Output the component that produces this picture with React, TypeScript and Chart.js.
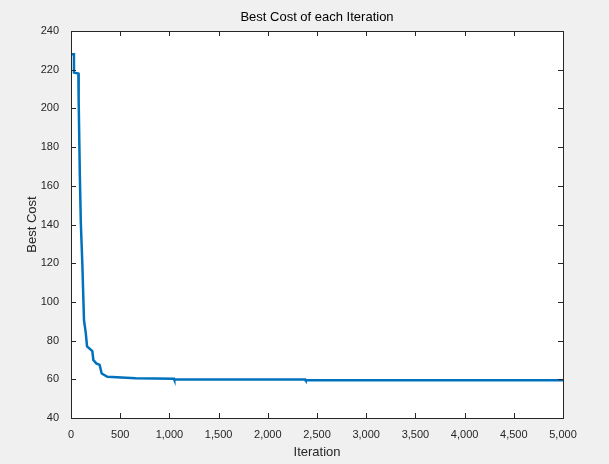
import React, { useEffect, useRef } from "react";
import { Chart, registerables } from "chart.js";
Chart.register(...registerables);

const iterations = [1, 13, 30, 30, 75, 78, 90, 100, 115, 132, 150, 163, 217, 227, 257, 291, 312, 370, 657, 1047, 1050, 2380, 2385, 5000];
const bestCost = [228, 228, 228, 218.5, 218, 204, 165, 140.6, 120, 90.6, 84, 77, 74.6, 70, 68.2, 67.4, 63, 61.3, 60.5, 60.3, 59.9, 59.9, 59.5, 59.5];
const xTicksStep = 500;
const yTicksStep = 20;

const FONT = "'Liberation Sans', Arial, sans-serif";

export default function App() {
  const ref = useRef<HTMLCanvasElement>(null);
  useEffect(() => {
    document.body.style.margin = "0";
    document.body.style.background = "#F0F0F0";
    const frame = {
      id: "frame",
      afterDraw(c: any) {
        const { ctx, chartArea: a, scales } = c;
        ctx.save();
        ctx.strokeStyle = "#262626";
        ctx.lineWidth = 1;
        ctx.strokeRect(a.left + 0.5, a.top + 0.5, a.right - a.left, a.bottom - a.top);
        ctx.beginPath();
        scales.x.ticks.forEach((t: any) => {
          const px = Math.round(scales.x.getPixelForValue(t.value)) + 0.5;
          ctx.moveTo(px, a.bottom); ctx.lineTo(px, a.bottom - 5);
          ctx.moveTo(px, a.top); ctx.lineTo(px, a.top + 5);
        });
        scales.y.ticks.forEach((t: any) => {
          const py = Math.round(scales.y.getPixelForValue(t.value)) + 0.5;
          ctx.moveTo(a.left, py); ctx.lineTo(a.left + 5, py);
          ctx.moveTo(a.right, py); ctx.lineTo(a.right - 5, py);
        });
        ctx.stroke();
        ctx.fillStyle = "#000";
        ctx.font = `13px ${FONT}`;
        ctx.textAlign = "center";
        ctx.textBaseline = "middle";
        ctx.fillText("Best Cost of each Iteration", (a.left + a.right) / 2, 17);
        ctx.fillStyle = "#262626";
        ctx.fillText("Iteration", (a.left + a.right) / 2, 452);
        ctx.translate(32, (a.top + a.bottom) / 2);
        ctx.rotate(-Math.PI / 2);
        ctx.fillText("Best Cost", 0, 0);
        ctx.restore();
      },
      beforeDraw(c: any) {
        const { ctx, chartArea: a } = c;
        ctx.save();
        ctx.fillStyle = "#F0F0F0";
        ctx.fillRect(0, 0, c.width, c.height);
        ctx.fillStyle = "#fff";
        ctx.fillRect(a.left, a.top, a.right - a.left, a.bottom - a.top);
        ctx.restore();
      },
    };
    const chart = new Chart(ref.current!, {
      type: "line",
      data: {
        datasets: [{
          data: iterations.map((x, i) => ({ x, y: bestCost[i] })),
          borderColor: "#0072BD",
          borderWidth: 2.5,
          pointRadius: 0,
          fill: false,
          tension: 0,
        }],
      },
      options: {
        responsive: false,
        animation: false,
        layout: { padding: { left: 0, top: 31, right: 46, bottom: 0 } },
        plugins: { legend: { display: false }, tooltip: { enabled: false } },
        scales: {
          x: {
            type: "linear", min: 0, max: 5000,
            ticks: { stepSize: xTicksStep, color: "#262626", font: { family: FONT, size: 11 }, maxRotation: 0, padding: 2 },
            grid: { display: false },
            border: { display: false },
            afterFit: (s: any) => { s.height = 46; },
          },
          y: {
            min: 40, max: 240,
            ticks: { stepSize: yTicksStep, color: "#262626", font: { family: FONT, size: 11 }, padding: 4 },
            grid: { display: false },
            border: { display: false },
            afterFit: (s: any) => { s.width = 71; },
          },
        },
      },
      plugins: [frame],
    });
    return () => chart.destroy();
  }, []);
  return <canvas ref={ref} width={609} height={464} style={{ display: "block" }} />;
}
